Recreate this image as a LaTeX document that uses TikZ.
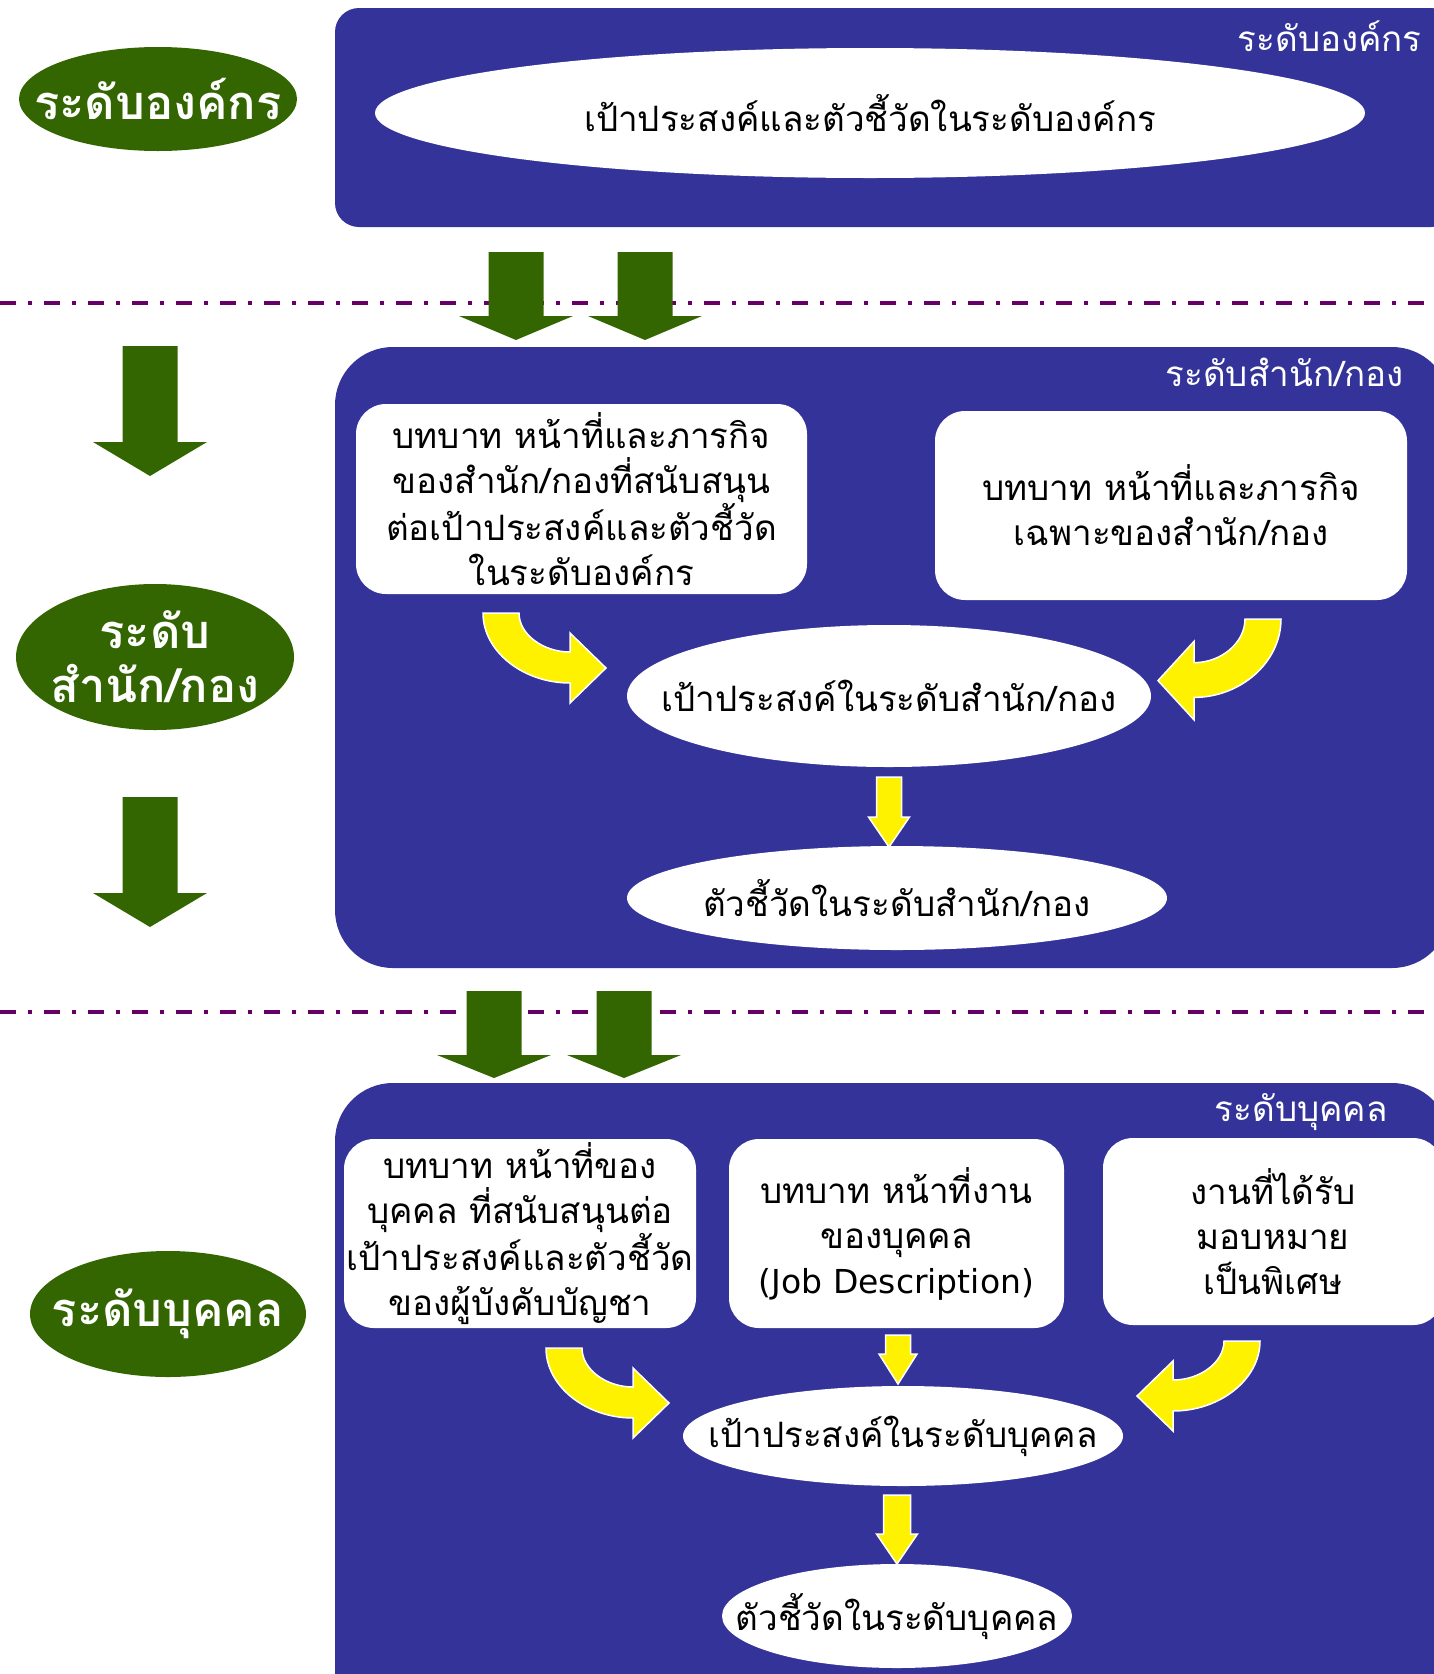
\documentclass[tikz,border=0pt]{standalone}
\usepackage{fontspec}
\setmainfont[Script=Thai]{Loma}
\newfontfamily\latinfont{DejaVu Sans}
\usetikzlibrary{shapes.geometric}
\definecolor{boxblue}{RGB}{51,51,153}
\definecolor{lvgreen}{RGB}{51,102,0}
\definecolor{dashpurple}{RGB}{102,0,102}
\tikzset{
  bluebox/.style={fill=boxblue, draw=none, inner sep=0pt},
  whitebox/.style={fill=white, draw=none, rounded corners=30pt, align=center, inner sep=0pt,
     font=\fontsize{35}{45}\selectfont},
  whiteell/.style={ellipse, fill=white, draw=none, inner sep=0pt,
     font=\fontsize{35}{45}\selectfont},
  greenell/.style={ellipse, fill=lvgreen, draw=none, inner sep=0pt, text=white, align=center,
     font=\fontsize{47}{54}\selectfont\bfseries},
  greentext/.style={inner sep=0pt, text=white, align=center,
     font=\fontsize{47}{54}\selectfont\bfseries},
  boxlabel/.style={text=white, inner sep=0pt, anchor=east, font=\fontsize{35}{40}\selectfont},
  yarrow/.style={fill=yellow, draw=white, line width=1.5pt, line join=miter},
  divider/.style={draw=dashpurple, line width=4pt, dash pattern=on 16pt off 12pt on 4pt off 12pt}
}
\newcommand{\GArrow}[4]{% cx, top, base, tip
  \fill[lvgreen] (#1-27.5,#2) -- (#1+27.5,#2) -- (#1+27.5,#3) -- (#1+57,#3) -- (#1,#4) -- (#1-57,#3) -- (#1-27.5,#3) -- cycle;}
\newcommand{\YArrow}[6]{% cx, top, base, tip, shaft half, head half
  \filldraw[yarrow] (#1-#5,#2) -- (#1+#5,#2) -- (#1+#5,#3) -- (#1+#6,#3) -- (#1,#4) -- (#1-#6,#3) -- (#1-#5,#3) -- cycle;}
\newcommand{\YCurve}[4]{% cx, cy, xscale, yscale
  \begin{scope}[shift={(#1,#2)}, xscale=#3, yscale=#4]
  \filldraw[yarrow] (-90,0) .. controls (-90,38.6) and (-49.7,70) .. (-3,70) -- (-3,90) -- (33,55) -- (-3,20) -- (-3,39)
     .. controls (-29.8,39) and (-54,21.5) .. (-54,0) -- cycle;
  \end{scope}}
\begin{document}
\begin{tikzpicture}[x=1pt,y=-1pt]
\useasboundingbox (0,0) rectangle (1434,1674);
\clip (0,0) rectangle (1434,1674);
% dividers
\coordinate (d1a) at (0,303); \coordinate (d1b) at (1434,303);
\coordinate (d2a) at (0,1012); \coordinate (d2b) at (1434,1012);
\draw[divider] (d1a) -- (d1b);
\draw[divider] (d2a) -- (d2b);
% blue containers
\node[bluebox, rounded corners=24pt, minimum width=1120pt, minimum height=219pt] (org) at (895,117.5) {};
\node[bluebox, rounded corners=58pt, minimum width=1115pt, minimum height=621pt] (div) at (892.5,657.5) {};
\node[bluebox, rounded corners=58pt, minimum width=1115pt, minimum height=660pt] (ind) at (892.5,1413) {};
\node[boxlabel] (orgl) at (1422,36) {ระดับองค์กร};
\node[boxlabel] (divl) at (1404,372) {ระดับสำนัก/กอง};
\node[boxlabel] (indl) at (1388,1112) {ระดับบุคคล};
% green level labels
\node[greenell, minimum width=278pt, minimum height=104pt] (lv1) at (158,99) {\makebox[0pt]{ระดับองค์กร}};
\node[greenell, minimum width=278pt, minimum height=146pt] (lv2) at (155,657) {};
\node[greentext] (lv2t) at (lv2.center) {ระดับ\\สำนัก/กอง};
\node[greenell, minimum width=276pt, minimum height=126pt] (lv3) at (168,1314) {\makebox[0pt]{ระดับบุคคล}};
% green arrows
\GArrow{516}{252}{316}{340}
\GArrow{645}{252}{316}{340}
\GArrow{150}{346}{442}{476}
\GArrow{150}{797}{893}{927}
\GArrow{494}{991}{1055}{1078}
\GArrow{624}{991}{1055}{1078}
% organisation level
\node[whiteell, minimum width=990pt, minimum height=130pt] (e1) at (870,113) {\makebox[0pt]{เป้าประสงค์และตัวชี้วัดในระดับองค์กร}};
% division level
\node[whitebox, minimum width=451pt, minimum height=190pt] (ba) at (581.5,499) {บทบาท หน้าที่และภารกิจ\\ของสำนัก/กองที่สนับสนุน\\ต่อเป้าประสงค์และตัวชี้วัด\\ในระดับองค์กร};
\node[whitebox, minimum width=472pt, minimum height=189pt] (bb) at (1171,505.5) {บทบาท หน้าที่และภารกิจ\\เฉพาะของสำนัก/กอง};
\node[whiteell, minimum width=524pt, minimum height=142pt] (e2) at (889,696) {\makebox[0pt]{เป้าประสงค์ในระดับสำนัก/กอง}};
\node[whiteell, minimum width=540pt, minimum height=104pt] (e3) at (897,898) {\makebox[0pt]{ตัวชี้วัดในระดับสำนัก/กอง}};
\YCurve{573}{613}{1}{1}
\YCurve{1191}{619}{-1}{1.12}
\YArrow{889}{777}{817}{847}{12.5}{20.5}
% individual level
\node[whitebox, minimum width=352pt, minimum height=189pt] (bc) at (520,1233.5) {บทบาท หน้าที่ของ\\บุคคล ที่สนับสนุนต่อ\\เป้าประสงค์และตัวชี้วัด\\ของผู้บังคับบัญชา};
\node[whitebox, minimum width=335pt, minimum height=189pt] (bd) at (896.5,1233.5) {บทบาท หน้าที่งาน\\ของบุคคล\\{\latinfont\fontsize{33}{45}\selectfont(Job Description)}};
\node[whitebox, minimum width=340pt, minimum height=187pt] (be) at (1273,1231.5) {งานที่ได้รับ\\มอบหมาย\\เป็นพิเศษ};
\node[whiteell, minimum width=440pt, minimum height=100pt] (e4) at (903,1436) {\makebox[0pt]{เป้าประสงค์ในระดับบุคคล}};
\node[whiteell, minimum width=350pt, minimum height=104pt] (e5) at (897,1616) {\makebox[0pt]{ตัวชี้วัดในระดับบุคคล}};
\YCurve{636}{1348}{1}{1}
\YCurve{1170}{1341}{-1}{1}
\YArrow{898}{1335}{1354}{1384}{12.5}{19}
\YArrow{897}{1495}{1534}{1564}{13.5}{20.5}
\end{tikzpicture}
\end{document}
